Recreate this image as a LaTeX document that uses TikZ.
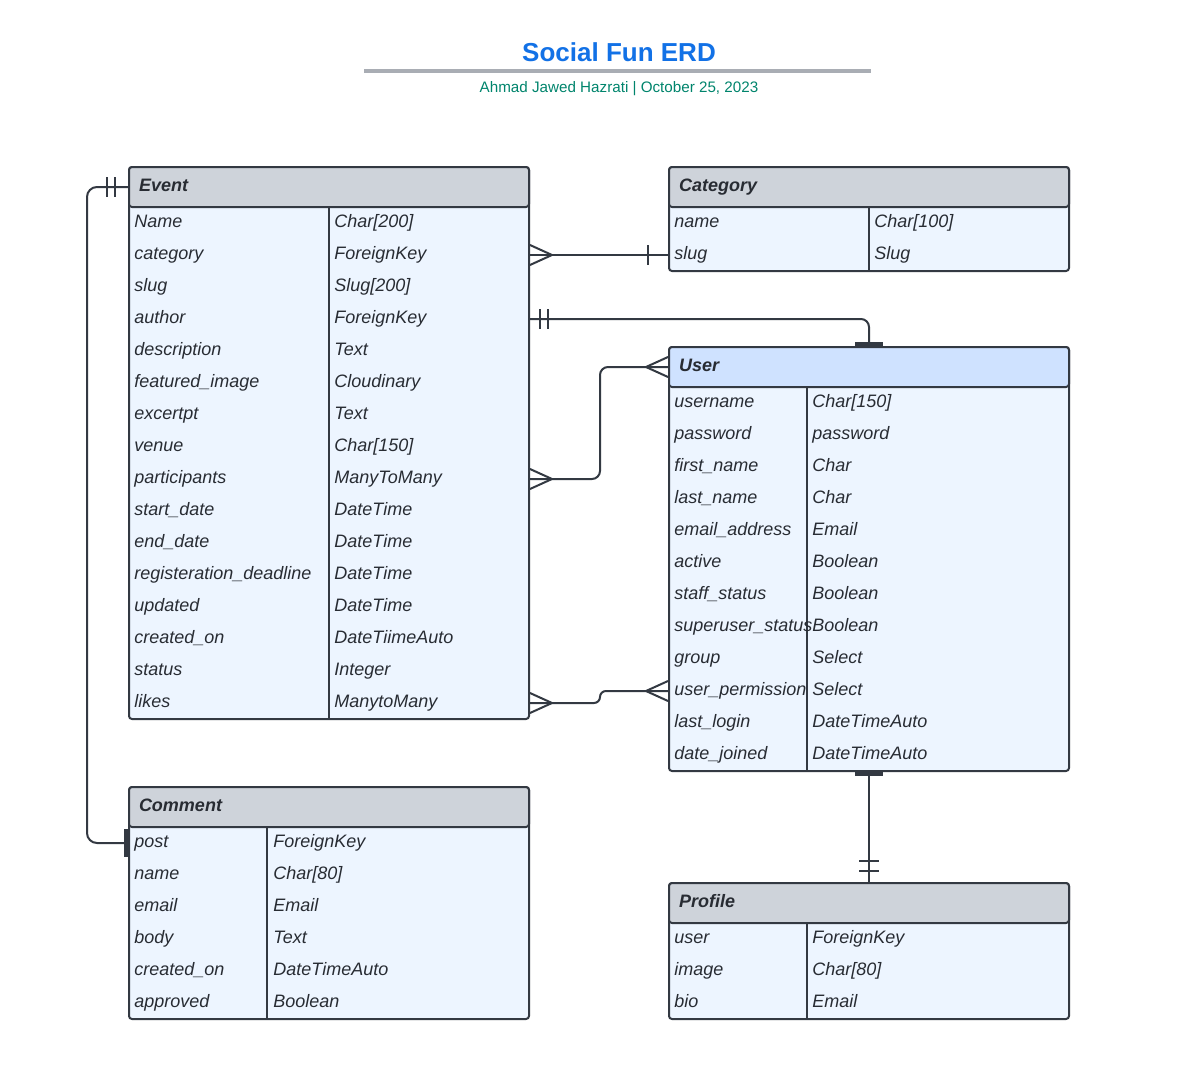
\documentclass[tikz,border=0pt]{standalone}
\usepackage{fontspec}
\setmainfont{Liberation Sans}
\usepackage{tikz}

\definecolor{erdline}{HTML}{333942}
\definecolor{erdhead}{HTML}{CED3DA}
\definecolor{erdbody}{HTML}{EDF5FF}
\definecolor{erduser}{HTML}{CFE2FF}
\definecolor{erdink}{HTML}{282C33}
\definecolor{erdblue}{HTML}{1271E6}
\definecolor{erdteal}{HTML}{00846C}
\definecolor{erdgray}{HTML}{A9ADB4}

\begin{document}
\begin{tikzpicture}[x=0.5pt, y=-0.5pt,
    entbox/.style={draw=erdline, fill=erdbody, line width=1pt, rounded corners=1.5pt, minimum width=200pt, inner sep=0pt},
    enthdr/.style={draw=erdline, fill=erdhead, line width=1pt, rounded corners=1.5pt, minimum width=200pt, minimum height=20pt,
        inner xsep=5pt, inner ysep=0pt, text width=190pt, align=left, text height=7pt, text depth=2.5pt,
        font=\fontsize{9}{11}\selectfont\bfseries\itshape, text=erdink},
    fld/.style={anchor=west, inner sep=0pt, text height=7pt, text depth=2.5pt, font=\fontsize{9}{11}\selectfont\itshape, text=erdink},
    sepline/.style={draw=erdline, line width=1pt},
    rel/.style={draw=erdline, line width=1pt},
    onebar/.style={draw=erdline, line width=1.6pt}]
                    \useasboundingbox (0,0) rectangle (1190,1066);
                    \node[font=\fontsize{13}{15}\selectfont\bfseries, text=erdblue, anchor=base] (title) at (619,61) {Social Fun ERD};
                    \draw[draw=erdgray, line width=1.75pt] (364,71) -- (871,71);   %title rule
                    \node[font=\fontsize{7.6}{9}\selectfont, text=erdteal, anchor=base] (subtitle) at (619,92) {Ahmad Jawed Hazrati | October 25, 2023};

                    \node[entbox, minimum height=276pt] (event) at (329,443) {};   %Event
                    \node[enthdr] (eventhdr) at (329,187) {Event};
                    \draw[sepline] (329,207) -- (329,719);
                    \node[fld] (evname) at (134,223) {Name};                      \node[fld] (evnamet) at (334,223) {Char[200]};
                    \node[fld] (evcat) at (134,255) {category};                   \node[fld] (evcatt) at (334,255) {ForeignKey};
                    \node[fld] (evslug) at (134,287) {slug};                      \node[fld] (evslugt) at (334,287) {Slug[200]};
                    \node[fld] (evauthor) at (134,319) {author};                  \node[fld] (evauthort) at (334,319) {ForeignKey};
                    \node[fld] (evdesc) at (134,351) {description};               \node[fld] (evdesct) at (334,351) {Text};
                    \node[fld] (evimg) at (134,383) {featured\_image};            \node[fld] (evimgt) at (334,383) {Cloudinary};
                    \node[fld] (evexc) at (134,415) {excertpt};                   \node[fld] (evexct) at (334,415) {Text};
                    \node[fld] (evvenue) at (134,447) {venue};                    \node[fld] (evvenuet) at (334,447) {Char[150]};
                    \node[fld] (evpart) at (134,479) {participants};              \node[fld] (evpartt) at (334,479) {ManyToMany};
                    \node[fld] (evstart) at (134,511) {start\_date};              \node[fld] (evstartt) at (334,511) {DateTime};
                    \node[fld] (evend) at (134,543) {end\_date};                  \node[fld] (evendt) at (334,543) {DateTime};
                    \node[fld] (evdead) at (134,575) {registeration\_deadline};   \node[fld] (evdeadt) at (334,575) {DateTime};
                    \node[fld] (evupd) at (134,607) {updated};                    \node[fld] (evupdt) at (334,607) {DateTime};
                    \node[fld] (evcreated) at (134,639) {created\_on};            \node[fld] (evcreatedt) at (334,639) {DateTiimeAuto};
                    \node[fld] (evstatus) at (134,671) {status};                  \node[fld] (evstatust) at (334,671) {Integer};
                    \node[fld] (evlikes) at (134,703) {likes};                    \node[fld] (evlikest) at (334,703) {ManytoMany};

                    \node[entbox, minimum height=52pt] (category) at (869,219) {};   %Category
                    \node[enthdr] (categoryhdr) at (869,187) {Category};
                    \draw[sepline] (869,207) -- (869,271);
                    \node[fld] (catname) at (674,223) {name};                     \node[fld] (catnamet) at (874,223) {Char[100]};
                    \node[fld] (catslug) at (674,255) {slug};                     \node[fld] (catslugt) at (874,255) {Slug};

                    \node[entbox, minimum height=212pt] (user) at (869,559) {};   %User
                    \node[enthdr, fill=erduser] (userhdr) at (869,367) {User};
                    \draw[sepline] (807,387) -- (807,771);
                    \node[fld] (usrname) at (674,403) {username};                 \node[fld] (usrnamet) at (812,403) {Char[150]};
                    \node[fld] (usrpass) at (674,435) {password};                 \node[fld] (usrpasst) at (812,435) {password};
                    \node[fld] (usrfirst) at (674,467) {first\_name};             \node[fld] (usrfirstt) at (812,467) {Char};
                    \node[fld] (usrlast) at (674,499) {last\_name};               \node[fld] (usrlastt) at (812,499) {Char};
                    \node[fld] (usrmail) at (674,531) {email\_address};           \node[fld] (usrmailt) at (812,531) {Email};
                    \node[fld] (usractive) at (674,563) {active};                 \node[fld] (usractivet) at (812,563) {Boolean};
                    \node[fld] (usrstaff) at (674,595) {staff\_status};           \node[fld] (usrstafft) at (812,595) {Boolean};
                    \node[fld] (usrsuper) at (674,627) {superuser\_status};       \node[fld] (usrsupert) at (812,627) {Boolean};
                    \node[fld] (usrgroup) at (674,659) {group};                   \node[fld] (usrgroupt) at (812,659) {Select};
                    \node[fld] (usrperm) at (674,691) {user\_permission};         \node[fld] (usrpermt) at (812,691) {Select};
                    \node[fld] (usrlogin) at (674,723) {last\_login};             \node[fld] (usrlogint) at (812,723) {DateTimeAuto};
                    \node[fld] (usrjoined) at (674,755) {date\_joined};           \node[fld] (usrjoinedt) at (812,755) {DateTimeAuto};

                    \node[entbox, minimum height=116pt] (comment) at (329,903) {};   %Comment
                    \node[enthdr] (commenthdr) at (329,807) {Comment};
                    \draw[sepline] (267,827) -- (267,1019);
                    \node[fld] (cmpost) at (134,843) {post};                      \node[fld] (cmpostt) at (273,843) {ForeignKey};
                    \node[fld] (cmname) at (134,875) {name};                      \node[fld] (cmnamet) at (273,875) {Char[80]};
                    \node[fld] (cmmail) at (134,907) {email};                     \node[fld] (cmmailt) at (273,907) {Email};
                    \node[fld] (cmbody) at (134,939) {body};                      \node[fld] (cmbodyt) at (273,939) {Text};
                    \node[fld] (cmcreated) at (134,971) {created\_on};            \node[fld] (cmcreatedt) at (273,971) {DateTimeAuto};
                    \node[fld] (cmappr) at (134,1003) {approved};                 \node[fld] (cmapprt) at (273,1003) {Boolean};

                    \node[entbox, minimum height=68pt] (profile) at (869,951) {};   %Profile
                    \node[enthdr] (profilehdr) at (869,903) {Profile};
                    \draw[sepline] (807,923) -- (807,1019);
                    \node[fld] (prouser) at (674,939) {user};                     \node[fld] (prousert) at (812,939) {ForeignKey};
                    \node[fld] (proimg) at (674,971) {image};                     \node[fld] (proimgt) at (812,971) {Char[80]};
                    \node[fld] (probio) at (674,1003) {bio};                      \node[fld] (probiot) at (812,1003) {Email};

                    \draw[rel] (event.east |- evcat) -- (category.west |- catslug);   %event - category
                    \draw[rel] (event.east |- evcat) ++(0,-10) -- ++(22,10) -- ++(-22,10);
                    \draw[rel] (category.west |- catslug) ++(-20,-10) -- ++(0,20);

                    \draw[rel, rounded corners=4pt] (event.east |- evauthor) -| (userhdr.north);   %author - user
                    \draw[rel] (event.east |- evauthor) ++(10,-10) -- ++(0,20) ++(8,-20) -- ++(0,20);
                    \draw[onebar] (userhdr.north) ++(-14,-2) -- ++(28,0);

                    \draw[rel, rounded corners=4pt] (event.east |- evpart) -- ++(70,0) |- (userhdr.west);   %participants - user
                    \draw[rel] (event.east |- evpart) ++(0,-10) -- ++(22,10) -- ++(-22,10);
                    \draw[rel] (userhdr.west) ++(0,-10) -- ++(-22,10) -- ++(22,10);

                    \draw[rel, rounded corners=3pt] (event.east |- evlikes) -- ++(70,0) |- (user.west |- usrperm);   %likes - user
                    \draw[rel] (event.east |- evlikes) ++(0,-10) -- ++(22,10) -- ++(-22,10);
                    \draw[rel] (user.west |- usrperm) ++(0,-10) -- ++(-22,10) -- ++(22,10);

                    \draw[rel, rounded corners=5pt] (eventhdr.west) -- ++(-41,0) |- (comment.west |- cmpost);   %event - comment
                    \draw[rel] (eventhdr.west) ++(-13,-10) -- ++(0,20) ++(-8,-20) -- ++(0,20);
                    \draw[onebar] (comment.west |- cmpost) ++(-2,-14) -- ++(0,28);

                    \draw[rel] (user.south) -- (profilehdr.north);   %user - profile
                    \draw[onebar] (user.south) ++(-14,2) -- ++(28,0);
                    \draw[rel] (profilehdr.north) ++(-10,-11) -- ++(20,0) ++(-20,-10) -- ++(20,0);
\end{tikzpicture}
\end{document}
